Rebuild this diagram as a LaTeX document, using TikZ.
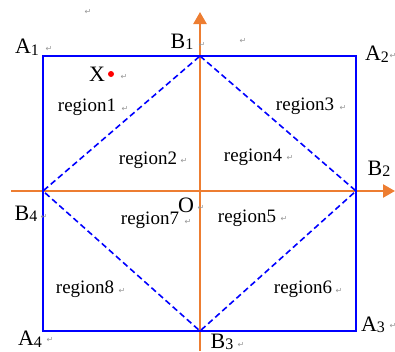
\documentclass[tikz,border=0pt]{standalone}
\usepackage{fontspec}
\setmainfont{Liberation Serif}
\newfontfamily\symf{DejaVu Sans}
\usetikzlibrary{arrows.meta}
\definecolor{axorange}{RGB}{237,125,49}
\definecolor{pmark}{RGB}{150,150,150}
\newcommand{\lab}[2]{{\fontsize{22}{22}\selectfont #1}{\fontsize{16}{16}\selectfont\raisebox{-1.5pt}{#2}}}
\tikzset{
  sq/.style={draw=blue, line width=2.8pt, line join=miter},
  dia/.style={draw=blue, line width=1.6pt, dash pattern=on 6pt off 3.5pt},
  ax/.style={draw=axorange, line width=2.4pt, -{Triangle[length=12pt,width=13pt]}},
  reg/.style={inner sep=0pt, font=\fontsize{19}{19}\selectfont},
  pt/.style={inner sep=0pt},
  pm/.style={inner sep=0pt, text=pmark, font=\symf\fontsize{8}{8}\selectfont},
}
\begin{document}
\begin{tikzpicture}[x=1pt,y=-1pt]
\useasboundingbox (0,0) rectangle (395,351);
% corners
\coordinate (A1) at (43,56);
\coordinate (A2) at (356,56);
\coordinate (A3) at (356,331);
\coordinate (A4) at (43,331);
\coordinate (B1) at (200,56);
\coordinate (B2) at (356,191);
\coordinate (B3) at (200,331);
\coordinate (B4) at (43,191);
\coordinate (O) at (200,191);
\coordinate (xs) at (11,191);
\coordinate (xe) at (395,191);
\coordinate (ys) at (200,351);
\coordinate (ye) at (200,12);
% axes
\draw[ax] (xs) -- (xe);
\draw[ax] (ys) -- (ye);
% square and diamond
\draw[sq] (A1) -- (A2) -- (A3) -- (A4) -- cycle;
\draw[dia] (B1) -- (B2) -- (B3) -- (B4) -- cycle;
% point X
\fill[red] (111,74) circle (3pt);
% labels
\node[pt] (lA1) at (27,47) {\lab{A}{1}};
\node[pt] (lA2) at (377,54) {\lab{A}{2}};
\node[pt] (lA3) at (373,325) {\lab{A}{3}};
\node[pt] (lA4) at (30,339) {\lab{A}{4}};
\node[pt] (lB1) at (182,42) {\lab{B}{1}};
\node[pt] (lB2) at (379,169) {\lab{B}{2}};
\node[pt] (lB3) at (222,342) {\lab{B}{3}};
\node[pt] (lB4) at (26,214) {\lab{B}{4}};
\node[pt] (lX) at (97,74) {\fontsize{22}{22}\selectfont X};
\node[pt] (lO) at (186,205) {\fontsize{22}{22}\selectfont O};
\node[reg] (r1) at (87,107) {region1};
\node[reg] (r2) at (148,160) {region2};
\node[reg] (r3) at (305,106) {region3};
\node[reg] (r4) at (253,157) {region4};
\node[reg] (r5) at (247,218) {region5};
\node[reg] (r6) at (303,289) {region6};
\node[reg] (r7) at (150,220) {region7};
\node[reg] (r8) at (85,289) {region8};
% paragraph marks
\node[pm] (p1) at (88,12) {↵};
\node[pm] (p2) at (243,41) {↵};
\node[pm] (p3) at (49,49) {↵};
\node[pm] (p4) at (202,45) {↵};
\node[pm] (p5) at (393,56) {↵};
\node[pm] (p6) at (124,77) {↵};
\node[pm] (p7) at (125,109) {↵};
\node[pm] (p8) at (343,108) {↵};
\node[pm] (p9) at (184,161) {↵};
\node[pm] (p10) at (290,158) {↵};
\node[pm] (p11) at (44,217) {↵};
\node[pm] (p12) at (201,208) {↵};
\node[pm] (p13) at (188,222) {↵};
\node[pm] (p14) at (284,219) {↵};
\node[pm] (p15) at (122,291) {↵};
\node[pm] (p16) at (339,291) {↵};
\node[pm] (p17) at (50,340) {↵};
\node[pm] (p18) at (393,326) {↵};
\node[pm] (p19) at (241,345) {↵};
\end{tikzpicture}
\end{document}
